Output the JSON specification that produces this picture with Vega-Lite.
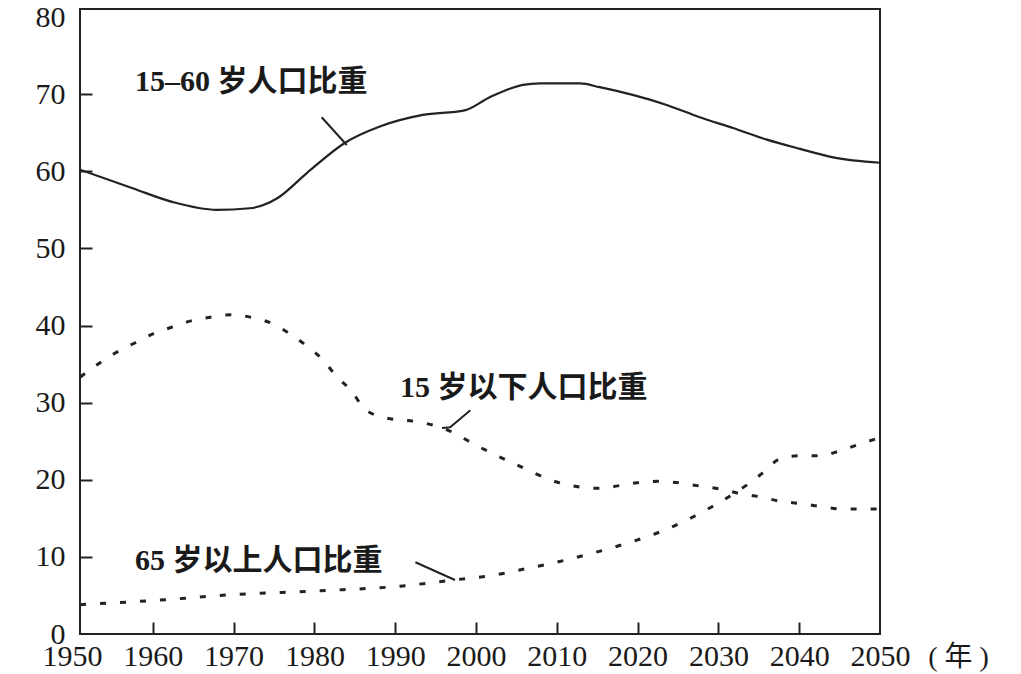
{
  "$schema": "https://vega.github.io/schema/vega-lite/v6.json",
  "autosize": "none",
  "width": 800,
  "height": 625,
  "padding": {"left": 80, "top": 9, "right": 141, "bottom": 40},
  "background": "white",
  "config": {
    "view": {"stroke": "#222", "strokeWidth": 2},
    "axis": {"grid": false, "domain": false, "labelFont": "Liberation Serif", "labelFontSize": 30, "labelColor": "#1a1a1a", "tickColor": "#222", "tickWidth": 2}
  },
  "datasets": {
    "lines": [
      {"series": "15-60", "year": 1951.0, "value": 60.2},
      {"series": "15-60", "year": 1957.5, "value": 57.8},
      {"series": "15-60", "year": 1962.5, "value": 56.0},
      {"series": "15-60", "year": 1967.9, "value": 55.0},
      {"series": "15-60", "year": 1972.0, "value": 55.2},
      {"series": "15-60", "year": 1975.4, "value": 56.5},
      {"series": "15-60", "year": 1979.1, "value": 59.8},
      {"series": "15-60", "year": 1983.8, "value": 63.7},
      {"series": "15-60", "year": 1988.1, "value": 65.8},
      {"series": "15-60", "year": 1993.4, "value": 67.3},
      {"series": "15-60", "year": 1998.6, "value": 67.9},
      {"series": "15-60", "year": 2001.7, "value": 69.6},
      {"series": "15-60", "year": 2005.8, "value": 71.2},
      {"series": "15-60", "year": 2007.9, "value": 71.4},
      {"series": "15-60", "year": 2012.9, "value": 71.4},
      {"series": "15-60", "year": 2015.3, "value": 70.9},
      {"series": "15-60", "year": 2019.4, "value": 69.9},
      {"series": "15-60", "year": 2023.6, "value": 68.6},
      {"series": "15-60", "year": 2027.7, "value": 67.0},
      {"series": "15-60", "year": 2031.8, "value": 65.6},
      {"series": "15-60", "year": 2036.0, "value": 64.1},
      {"series": "15-60", "year": 2040.1, "value": 62.9},
      {"series": "15-60", "year": 2044.2, "value": 61.8},
      {"series": "15-60", "year": 2050.0, "value": 61.1},

      {"series": "0-15", "year": 1951.0, "value": 33.3},
      {"series": "0-15", "year": 1953.1, "value": 34.9},
      {"series": "0-15", "year": 1955.3, "value": 36.4},
      {"series": "0-15", "year": 1957.7, "value": 37.7},
      {"series": "0-15", "year": 1960.0, "value": 38.9},
      {"series": "0-15", "year": 1962.4, "value": 39.8},
      {"series": "0-15", "year": 1964.7, "value": 40.6},
      {"series": "0-15", "year": 1967.3, "value": 41.1},
      {"series": "0-15", "year": 1969.8, "value": 41.4},
      {"series": "0-15", "year": 1972.4, "value": 41.0},
      {"series": "0-15", "year": 1974.9, "value": 40.2},
      {"series": "0-15", "year": 1977.0, "value": 38.9},
      {"series": "0-15", "year": 1979.1, "value": 37.3},
      {"series": "0-15", "year": 1981.1, "value": 35.5},
      {"series": "0-15", "year": 1982.8, "value": 33.3},
      {"series": "0-15", "year": 1984.7, "value": 31.4},
      {"series": "0-15", "year": 1986.0, "value": 29.4},
      {"series": "0-15", "year": 1988.5, "value": 28.1},
      {"series": "0-15", "year": 1993.4, "value": 27.4},
      {"series": "0-15", "year": 1995.9, "value": 26.7},
      {"series": "0-15", "year": 2000.5, "value": 24.2},
      {"series": "0-15", "year": 2005.1, "value": 21.9},
      {"series": "0-15", "year": 2010.0, "value": 19.7},
      {"series": "0-15", "year": 2015.0, "value": 18.9},
      {"series": "0-15", "year": 2019.9, "value": 19.6},
      {"series": "0-15", "year": 2022.5, "value": 19.8},
      {"series": "0-15", "year": 2025.1, "value": 19.6},
      {"series": "0-15", "year": 2027.6, "value": 19.2},
      {"series": "0-15", "year": 2030.2, "value": 18.8},
      {"series": "0-15", "year": 2032.7, "value": 18.2},
      {"series": "0-15", "year": 2035.1, "value": 17.8},
      {"series": "0-15", "year": 2037.7, "value": 17.2},
      {"series": "0-15", "year": 2040.3, "value": 16.9},
      {"series": "0-15", "year": 2042.8, "value": 16.5},
      {"series": "0-15", "year": 2045.3, "value": 16.2},
      {"series": "0-15", "year": 2047.9, "value": 16.2},
      {"series": "0-15", "year": 2050.0, "value": 16.2},

      {"series": "65+", "year": 1951.0, "value": 3.8},
      {"series": "65+", "year": 1960.9, "value": 4.4},
      {"series": "65+", "year": 1969.9, "value": 5.1},
      {"series": "65+", "year": 1980.7, "value": 5.6},
      {"series": "65+", "year": 1990.6, "value": 6.2},
      {"series": "65+", "year": 1997.2, "value": 7.0},
      {"series": "65+", "year": 2002.1, "value": 7.6},
      {"series": "65+", "year": 2005.4, "value": 8.3},
      {"series": "65+", "year": 2009.5, "value": 9.2},
      {"series": "65+", "year": 2014.5, "value": 10.5},
      {"series": "65+", "year": 2019.1, "value": 11.9},
      {"series": "65+", "year": 2022.2, "value": 13.0},
      {"series": "65+", "year": 2024.5, "value": 14.0},
      {"series": "65+", "year": 2026.9, "value": 15.2},
      {"series": "65+", "year": 2029.2, "value": 16.5},
      {"series": "65+", "year": 2031.3, "value": 17.8},
      {"series": "65+", "year": 2033.5, "value": 19.3},
      {"series": "65+", "year": 2035.5, "value": 20.9},
      {"series": "65+", "year": 2037.6, "value": 22.7},
      {"series": "65+", "year": 2040.0, "value": 23.1},
      {"series": "65+", "year": 2042.5, "value": 23.1},
      {"series": "65+", "year": 2044.9, "value": 23.7},
      {"series": "65+", "year": 2047.4, "value": 24.6},
      {"series": "65+", "year": 2049.8, "value": 25.4}
    ],
    "leaders": [
      {"seg": "a", "year": 1980.9, "value": 67.0},
      {"seg": "a", "year": 1984.0, "value": 63.4},
      {"seg": "b", "year": 1999.3, "value": 29.0},
      {"seg": "b", "year": 1996.8, "value": 26.8},
      {"seg": "b", "year": 1995.8, "value": 26.7},
      {"seg": "c", "year": 1992.5, "value": 9.3},
      {"seg": "c", "year": 1997.4, "value": 7.0}
    ],
    "labels": [
      {"text": "15–60 岁人口比重", "year": 1957.8, "value": 71.6},
      {"text": "15 岁以下人口比重", "year": 1990.6, "value": 31.9},
      {"text": "65 岁以上人口比重", "year": 1957.8, "value": 9.5}
    ]
  },
  "encoding": {
    "x": {
      "field": "year", "type": "quantitative",
      "scale": {"domain": [1950, 2050], "range": [-8, 800], "nice": false, "zero": false},
      "axis": {
        "values": [1950, 1960, 1970, 1980, 1990, 2000, 2010, 2020, 2030, 2040, 2050],
        "format": "d",
        "tickSize": -12,
        "labelPadding": 19,
        "labelFlush": false,
        "labelOverlap": false,
        "tickColor": {"condition": {"test": "datum.value == 1950 || datum.value == 2050", "value": "transparent"}, "value": "#222"},
        "title": "(  年  )",
        "titleFont": "Liberation Serif, Noto Sans CJK SC",
        "titleFontSize": 28,
        "titleFontWeight": "normal",
        "titleColor": "#1a1a1a",
        "titleX": 878,
        "titleY": 23,
        "titleAlign": "center",
        "titleBaseline": "middle",
        "titleAnchor": null
      }
    },
    "y": {
      "field": "value", "type": "quantitative",
      "scale": {"domain": [0, 80], "range": [625, 8], "nice": false},
      "axis": {
        "values": [0, 10, 20, 30, 40, 50, 60, 70, 80],
        "tickSize": -12,
        "labelPadding": 27,
        "labelFlush": false,
        "labelOverlap": false,
        "tickColor": {"condition": {"test": "datum.value == 0 || datum.value == 80", "value": "transparent"}, "value": "#222"},
        "title": null
      }
    }
  },
  "layer": [
    {
      "data": {"name": "lines"},
      "transform": [{"filter": "datum.series == '15-60'"}],
      "mark": {"type": "line", "interpolate": "monotone", "color": "#222", "strokeWidth": 2.2, "clip": true}
    },
    {
      "data": {"name": "lines"},
      "transform": [{"filter": "datum.series != '15-60'"}],
      "mark": {"type": "line", "interpolate": "monotone", "color": "#222", "strokeWidth": 3, "strokeDash": [6, 14], "clip": true},
      "encoding": {"detail": {"field": "series"}}
    },
    {
      "data": {"name": "leaders"},
      "mark": {"type": "line", "color": "#222", "strokeWidth": 2},
      "encoding": {"detail": {"field": "seg"}}
    },
    {
      "data": {"name": "labels"},
      "mark": {"type": "text", "align": "left", "baseline": "middle", "font": "Liberation Serif, Noto Sans CJK SC", "fontSize": 30, "fontWeight": "bold", "color": "#1a1a1a"},
      "encoding": {"text": {"field": "text"}}
    }
  ]
}
